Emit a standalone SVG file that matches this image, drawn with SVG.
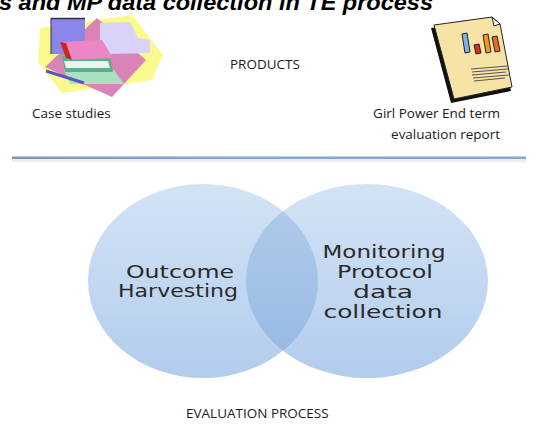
<svg xmlns="http://www.w3.org/2000/svg" width="536" height="428" viewBox="0 0 536 428">
  <style>
    .title { font-family: "Liberation Sans", Arial, sans-serif; font-weight: bold; font-style: italic; font-size: 22px; fill: #000; }
    .label { font-family: "Open Sans", "Noto Sans", sans-serif; font-size: 13.5px; fill: #1a1a1a; }
    .venn { font-family: "DejaVu Sans", "Liberation Sans", sans-serif; font-size: 18px; fill: #2a2a2a; text-anchor: middle; }
    .ink { stroke: #222; stroke-width: 1; }
  </style>
  <defs>
    <linearGradient id="circleFill" x1="0" y1="0" x2="0" y2="1">
      <stop offset="0" stop-color="#d3e3f5"/>
      <stop offset="1" stop-color="#b2cced"/>
    </linearGradient>
    <linearGradient id="overlapFill" x1="0" y1="0" x2="0" y2="1">
      <stop offset="0" stop-color="#b3cdeb"/>
      <stop offset="1" stop-color="#93b7e2"/>
    </linearGradient>
    <linearGradient id="ruleFill" x1="0" y1="0" x2="1" y2="0">
      <stop offset="0" stop-color="#8096b8"/>
      <stop offset="0.5" stop-color="#88a8d4"/>
      <stop offset="1" stop-color="#8aa6cf"/>
    </linearGradient>
    <clipPath id="leftClip">
      <ellipse cx="203" cy="281" rx="115" ry="97"/>
    </clipPath>
  </defs>

  <rect width="536" height="428" fill="#fff"/>

  <!-- heading, cut off by the top edge -->
  <text class="title" x="-1" y="10" textLength="434" lengthAdjust="spacingAndGlyphs">s and MP data collection in TE process</text>

  <!-- books clip art -->
  <g id="case-studies-icon">
    <polygon points="40,28 132,15 163,55 152,80 62,93 38,62" fill="#fafa8c"/>
    <polygon points="97,18 146,60 112,97 45,67" fill="#d884b6"/>
    <rect x="51" y="18" width="34" height="36" fill="#8a86ea"/>
    <line x1="51" y1="18.5" x2="85" y2="18.5" stroke="#333" stroke-width="1.5"/>
    <line x1="51" y1="18" x2="51" y2="54" stroke="#333" stroke-width="1"/>
    <polygon points="100,23 130,22 138,38 150,40 150,53 110,54 100,48" fill="#d9d3fa"/>
    <polygon points="64,70 114,70 124,84 70,84" fill="#a8e0c0"/>
    <polygon points="62,56 110,56 113,72 65,72" fill="#5bb08c"/>
    <polygon points="64,61 108,61 110,68 66,68" fill="#e8f6ee"/>
    <polygon points="60,42 102,40 113,58 68,60" fill="#ec86c4"/>
    <polygon points="60,42 66,43 72,60 66,58" fill="#c8281c"/>
    <line x1="46" y1="71" x2="84" y2="83" stroke="#5a54c8" stroke-width="3"/>
  </g>

  <!-- report clip art -->
  <g id="report-icon">
    <polygon points="434,25 497,17 514,88 454,100" fill="#111" transform="translate(-3,3)"/>
    <polygon points="434,25 492,17 500,24 512,87 454,99" fill="#f8e3a6" class="ink"/>
    <polygon points="492,17 494,26 500,24" fill="#fff" class="ink"/>
    <polygon points="462,34 467,33 470,52 465,53" fill="#7ab4e6" class="ink"/>
    <polygon points="474,45 479,44 481,53 476,54" fill="#e02a1a" class="ink"/>
    <polygon points="483,35 488,34 491,52 486,53" fill="#f39a1c" class="ink"/>
    <polygon points="492,37 497,36 500,51 495,52" fill="#ea6a22" class="ink"/>
    <g stroke="#555" stroke-width="1">
      <line x1="471" y1="69" x2="508" y2="66"/>
      <line x1="472" y1="72" x2="508" y2="69"/>
      <line x1="472" y1="75" x2="506" y2="72"/>
      <line x1="473" y1="78" x2="509" y2="75"/>
      <line x1="474" y1="81" x2="505" y2="78"/>
    </g>
  </g>

  <g id="products">
    <text class="label" x="230" y="69" font-size="15.5">PRODUCTS</text>
    <text class="label" x="32" y="118" font-size="14.5">Case studies</text>
    <text class="label" x="500" y="118" text-anchor="end">Girl Power End term</text>
    <text class="label" x="500" y="139" text-anchor="end">evaluation report</text>
  </g>

  <!-- divider -->
  <rect x="12" y="159" width="514" height="3" fill="#e8eef6"/>
  <rect x="12" y="156.5" width="514" height="2.5" fill="url(#ruleFill)"/>

  <!-- Venn diagram -->
  <g id="outcome-harvesting">
    <ellipse cx="203" cy="281" rx="115" ry="97" fill="url(#circleFill)"/>
    <text class="venn" x="180" y="278" textLength="108" lengthAdjust="spacingAndGlyphs">Outcome</text>
    <text class="venn" x="178" y="297" textLength="120" lengthAdjust="spacingAndGlyphs">Harvesting</text>
  </g>
  <g id="monitoring-protocol">
    <ellipse cx="367" cy="281" rx="121" ry="97" fill="url(#circleFill)"/>
    <ellipse cx="367" cy="281" rx="121" ry="97" fill="url(#overlapFill)" clip-path="url(#leftClip)"/>
    <text class="venn" x="384" y="258" textLength="123" lengthAdjust="spacingAndGlyphs">Monitoring</text>
    <text class="venn" x="385" y="278" textLength="96" lengthAdjust="spacingAndGlyphs">Protocol</text>
    <text class="venn" x="383" y="298" textLength="60" lengthAdjust="spacingAndGlyphs">data</text>
    <text class="venn" x="383" y="318" textLength="119" lengthAdjust="spacingAndGlyphs">collection</text>
  </g>

  <text class="label" x="186" y="418" font-size="15">EVALUATION PROCESS</text>
</svg>
